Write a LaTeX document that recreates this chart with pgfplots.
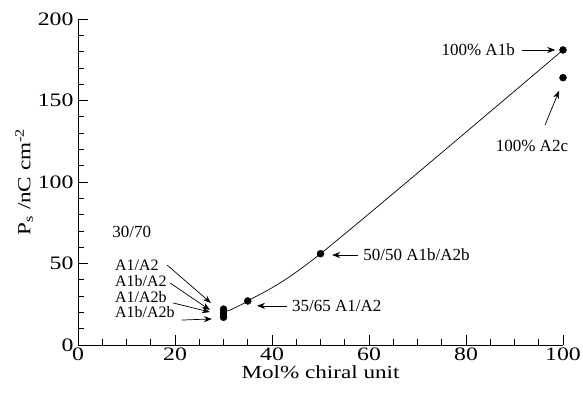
\documentclass[border=0pt]{standalone}
\usepackage{fontspec}
\setmainfont{Liberation Serif}
\newfontfamily\widefont{Liberation Serif}[FakeStretch=1.25]
\usepackage{pgfplots}
\usetikzlibrary{arrows.meta}
\pgfplotsset{compat=1.18}
\begin{document}
\begin{tikzpicture}[x=1pt,y=1pt]
\path[use as bounding box] (-78pt,-48pt) rectangle (505pt,345pt);
\begin{axis}[
  at={(0pt,0pt)}, anchor=origin,
  scale only axis, width=485pt, height=326pt,
  xmin=0, xmax=100, ymin=0, ymax=200,
  axis x line*=bottom, axis y line*=left,
  axis line style={-, line width=0.7pt},
  xtick={0,20,40,60,80,100}, ytick={0,50,100,150,200},
  minor x tick num=3, minor y tick num=4,
  tick align=inside,
  major tick length=10pt, minor tick length=6pt,
  tick style={line width=0.6pt, black},
  /pgf/number format/assume math mode=true,
  ticklabel style={font=\widefont\fontsize{19}{23}\selectfont},
  label style={font=\widefont\fontsize{18.5}{22}\selectfont},
  xticklabel style={yshift=1pt},
  yticklabel style={xshift=-1pt},
  xlabel={Mol\% chiral unit},
  ylabel={P\textsubscript{s} /nC cm\textsuperscript{-2}},
  xlabel style={yshift=2pt},
  ylabel style={yshift=-2pt},
  clip=false,
]
\addplot[smooth, line width=0.7pt, black] coordinates {(30,20) (35,27) (50,56) (100,181)};
\addplot[only marks, mark=*, mark size=3.5pt, black] coordinates {
(30,22) (30,20) (30,18.5) (30,17) (35,27) (50,56) (100,181) (100,164)};
\tikzset{ann/.style={font=\fontsize{17}{20}\selectfont, inner sep=0pt},
  sann/.style={font=\fontsize{16}{18}\selectfont, inner sep=0pt},
  arr/.style={-{Stealth[length=8pt,width=6pt,inset=2.5pt]}, line width=0.7pt}}
\node[ann] at (axis cs:11.1,69.3) {30/70};
\node[sann, anchor=west] at (axis cs:7.6,49) {A1/A2};
\node[sann, anchor=west] at (axis cs:7.6,39.5) {A1b/A2};
\node[sann, anchor=west] at (axis cs:7.6,29.6) {A1/A2b};
\node[sann, anchor=west] at (axis cs:7.6,20.0) {A1b/A2b};
\draw[arr] (axis cs:18.4,49) -- (axis cs:27.4,25.8);
\draw[arr] (axis cs:19.0,38) -- (axis cs:27.2,21.5);
\draw[arr] (axis cs:19.6,25.8) -- (axis cs:27.2,20.2);
\draw[arr] (axis cs:21.4,15.3) -- (axis cs:27.6,16);
\node[ann, anchor=west] at (axis cs:44.1,24) {35/65 A1/A2};
\draw[arr] (axis cs:43.1,24) -- (axis cs:36.9,24);
\node[ann, anchor=west] at (axis cs:58.8,55.2) {50/50 A1b/A2b};
\draw[arr] (axis cs:57.7,55.2) -- (axis cs:52.4,55.2);
\node[ann, anchor=east] at (axis cs:90.1,181) {100\% A1b};
\draw[arr] (axis cs:91.5,181) -- (axis cs:98.4,181);
\node[ann] at (axis cs:93.6,122) {100\% A2c};
\draw[arr] (axis cs:96.3,135) -- (axis cs:99.2,156);
\end{axis}
\end{tikzpicture}
\end{document}
